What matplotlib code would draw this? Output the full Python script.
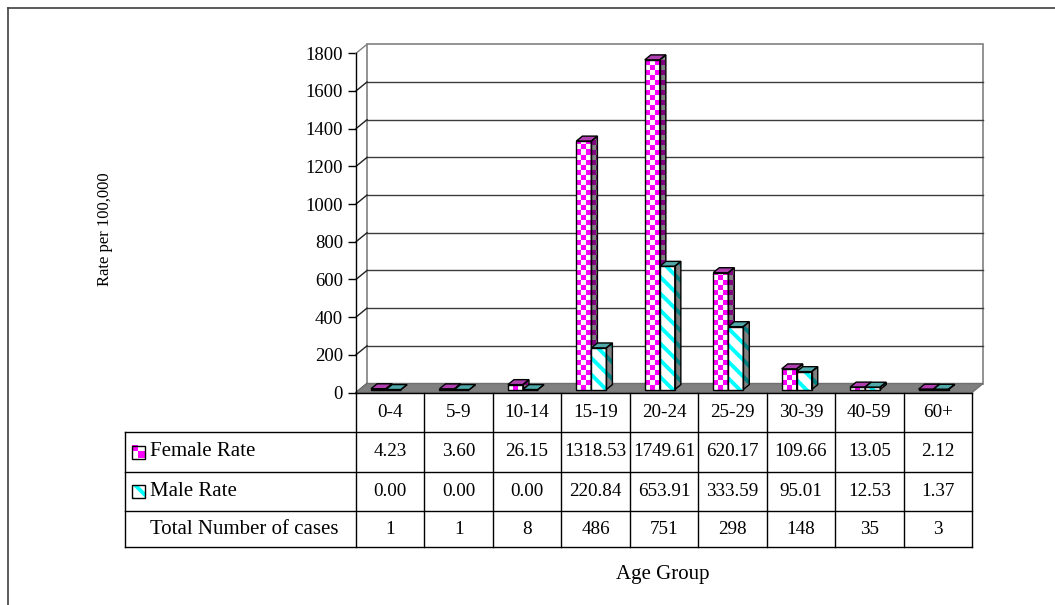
import math
import numpy as np
import matplotlib
matplotlib.use("Agg")
import matplotlib.pyplot as plt
import matplotlib.patches as patches
from matplotlib.colors import ListedColormap
from matplotlib.lines import Line2D

categories = ["0-4", "5-9", "10-14", "15-19", "20-24", "25-29", "30-39", "40-59", "60+"]
female_rate = [4.23, 3.60, 26.15, 1318.53, 1749.61, 620.17, 109.66, 13.05, 2.12]
male_rate = [0.00, 0.00, 0.00, 220.84, 653.91, 333.59, 95.01, 12.53, 1.37]
total_cases = [1, 1, 8, 486, 751, 298, 148, 35, 3]
row_labels = ["Female Rate", "Male Rate", "Total Number of cases"]
y_ticks = [0, 200, 400, 600, 800, 1000, 1200, 1400, 1600, 1800]

plt.rcParams["font.family"] = ["Liberation Serif", "DejaVu Serif"]
plt.rcParams["hatch.linewidth"] = 2.8

W, H = 1055, 605
fig = plt.figure(figsize=(W / 100, H / 100), dpi=100)

# front plane of the plot area, pixels from the top-left corner
px_left, px_right = 356, 972
px_zero, px_top = 392.5, 53.3
y_max = y_ticks[-1]
n = len(categories)

ax = fig.add_axes([px_left / W, 1 - px_zero / H,
                   (px_right - px_left) / W, (px_zero - px_top) / H])
ax.set_xlim(0, n)
ax.set_ylim(0, y_max)

ux = n / (px_right - px_left)      # data units per pixel
uy = y_max / (px_zero - px_top)
DX, DY = 11 * ux, 9 * uy           # depth of the floor / walls

# bars sit between these depth fractions
f0, f1 = 0.33, 0.88
dd = f1 - f0
bar_w = 15 * ux
bar_x0 = 11.4 * ux

MAGENTA = "#FF00FF"
CYAN = "#00FFFF"


def checker(clip, x0, x1, y0, y1, c1, c2, z):
    cw, ch = 5 * ux, 5 * uy
    cols = max(1, int(math.ceil((x1 - x0) / cw - 1e-6)))
    rows = max(1, int(math.ceil((y1 - y0) / ch - 1e-6)))
    arr = np.add.outer(np.arange(rows), np.arange(cols)) % 2
    img = ax.imshow(arr, cmap=ListedColormap([c1, c2]), vmin=0, vmax=1,
                    extent=(x0, x0 + cols * cw, y0, y0 + rows * ch),
                    origin="lower", interpolation="nearest", aspect="auto",
                    zorder=z)
    img.set_clip_path(clip)


# back wall
ax.add_patch(patches.Rectangle((DX, DY), n, y_max, facecolor="white",
                               edgecolor="#808080", lw=1.2, zorder=1, clip_on=False))
for v in y_ticks[1:-1]:
    ax.plot([DX, n + DX], [v + DY, v + DY], color="#3c3c3c", lw=1, zorder=2,
            clip_on=False)
# side wall diagonals
for v in y_ticks:
    ax.plot([0, DX], [v, v + DY], color="#202020" if v < y_max else "#808080",
            lw=1, zorder=2, clip_on=False)

# floor
ax.add_patch(patches.Polygon([(0, 0), (n, 0), (n + DX, DY), (DX, DY)], closed=True,
                             facecolor="#808080", edgecolor="#707070", lw=1,
                             zorder=3, clip_on=False))


def draw_bar(x, value, kind, z):
    bx, by = x + f0 * DX, f0 * DY
    top = by + value
    front = patches.Rectangle((bx, by), bar_w, value, transform=ax.transData)
    side_pts = [(bx + bar_w, by), (bx + bar_w + dd * DX, by + dd * DY),
                (bx + bar_w + dd * DX, top + dd * DY), (bx + bar_w, top)]
    top_pts = [(bx, top), (bx + bar_w, top), (bx + bar_w + dd * DX, top + dd * DY),
               (bx + dd * DX, top + dd * DY)]
    side = patches.Polygon(side_pts, closed=True, transform=ax.transData)
    if kind == "female":
        if value > 0:
            checker(front, bx, bx + bar_w, by, top, "white", MAGENTA, z)
        checker(side, bx + bar_w, bx + bar_w + dd * DX, by, top + dd * DY,
                "#808080", "#800080", z)
        top_color = "#B040B0"
    else:
        ax.add_patch(patches.Rectangle((bx, by), bar_w, value, facecolor="white",
                                       edgecolor=CYAN, hatch="\\\\", lw=0, zorder=z))
        ax.add_patch(patches.Polygon(side_pts, closed=True, facecolor="#808080",
                                     edgecolor="#008080", hatch="\\\\", lw=0,
                                     zorder=z))
        top_color = "#50A8A8"
    ax.add_patch(patches.Polygon(top_pts, closed=True, facecolor=top_color,
                                 edgecolor="black", lw=1, zorder=z + 0.5))
    ax.add_patch(patches.Rectangle((bx, by), bar_w, value, facecolor="none",
                                   edgecolor="black", lw=1, zorder=z + 0.5))
    ax.add_patch(patches.Polygon(side_pts, closed=True, facecolor="none",
                                 edgecolor="black", lw=1, zorder=z + 0.5))


for i in range(n):
    draw_bar(i + bar_x0, female_rate[i], "female", 10 + 2 * i)
    draw_bar(i + bar_x0 + bar_w, male_rate[i], "male", 11 + 2 * i)

ax.set_xlim(0, n)
ax.set_ylim(0, y_max)
ax.set_xticks([])
ax.set_yticks(y_ticks)
ax.tick_params(axis="y", length=5.8, width=1, pad=3.6, labelsize=13.5,
               direction="out", colors="black")
for name in ["top", "right", "bottom"]:
    ax.spines[name].set_visible(False)
ax.spines["left"].set_linewidth(1)
ax.spines["left"].set_zorder(40)
ax.patch.set_visible(False)

# data table under the chart
tab_left, tab_bottom = 125, 547
row_lines = [px_zero, 432, 472, 511, tab_bottom]
label_w = (px_left - tab_left) * ux

tax = fig.add_axes([tab_left / W, 1 - tab_bottom / H,
                    (px_right - tab_left) / W, (tab_bottom - px_zero) / H])
tax.set_xlim(-label_w, n)
tax.set_ylim(tab_bottom, px_zero)
tax.axis("off")

tax.plot([0, n], [row_lines[0]] * 2, color="black", lw=1, clip_on=False)
for y in row_lines[1:]:
    tax.plot([-label_w, n], [y, y], color="black", lw=1, clip_on=False)
tax.plot([-label_w, -label_w], [row_lines[1], tab_bottom], color="black", lw=1,
         clip_on=False)
for i in range(n + 1):
    tax.plot([i, i], [px_zero, tab_bottom], color="black", lw=1, clip_on=False)

cells = [categories,
         ["%.2f" % v for v in female_rate],
         ["%.2f" % v for v in male_rate],
         [str(v) for v in total_cases]]
for r, row in enumerate(cells):
    yc = (row_lines[r] + row_lines[r + 1]) / 2
    for i, txt in enumerate(row):
        tax.text(i + 0.5, yc, txt, ha="center", va="center", fontsize=13.8)

for r, lab in enumerate(row_labels):
    yc = (row_lines[r + 1] + row_lines[r + 2]) / 2
    tax.text(-label_w + 25 * ux, yc, lab, ha="left", va="center", fontsize=15)

# legend keys in the row label cells
kx, ks = -label_w + 7 * ux, 13 * ux
yc = (row_lines[1] + row_lines[2]) / 2
tax.imshow([[1, 0], [0, 1]], cmap=ListedColormap(["white", MAGENTA]),
           extent=(kx, kx + ks, yc + 6.5, yc - 6.5), interpolation="nearest",
           aspect="auto", zorder=4)
tax.add_patch(patches.Rectangle((kx, yc - 6.5), ks, 13, facecolor="none",
                                edgecolor="black", lw=1, zorder=5))
yc = (row_lines[2] + row_lines[3]) / 2
tax.add_patch(patches.Rectangle((kx, yc - 6.5), ks, 13, facecolor="white",
                                edgecolor=CYAN, hatch="\\\\", lw=0, zorder=4))
tax.add_patch(patches.Rectangle((kx, yc - 6.5), ks, 13, facecolor="none",
                                edgecolor="black", lw=1, zorder=5))
tax.set_xlim(-label_w, n)
tax.set_ylim(tab_bottom, px_zero)

# axis titles
fig.text(105 / W, 1 - 229 / H, "Rate per 100,000", rotation=90, ha="center",
         va="center", fontsize=12)
fig.text(663 / W, 1 - 574 / H, "Age Group", ha="center", va="center", fontsize=15)

# outer chart border
fig.add_artist(Line2D([7.5 / W, 7.5 / W], [0, 1 - 8 / H], transform=fig.transFigure,
                      color="#404040", lw=1.2))
fig.add_artist(Line2D([7.5 / W, 1], [1 - 8 / H, 1 - 8 / H], transform=fig.transFigure,
                      color="#404040", lw=1.2))

fig.savefig("out.png", dpi=100)
